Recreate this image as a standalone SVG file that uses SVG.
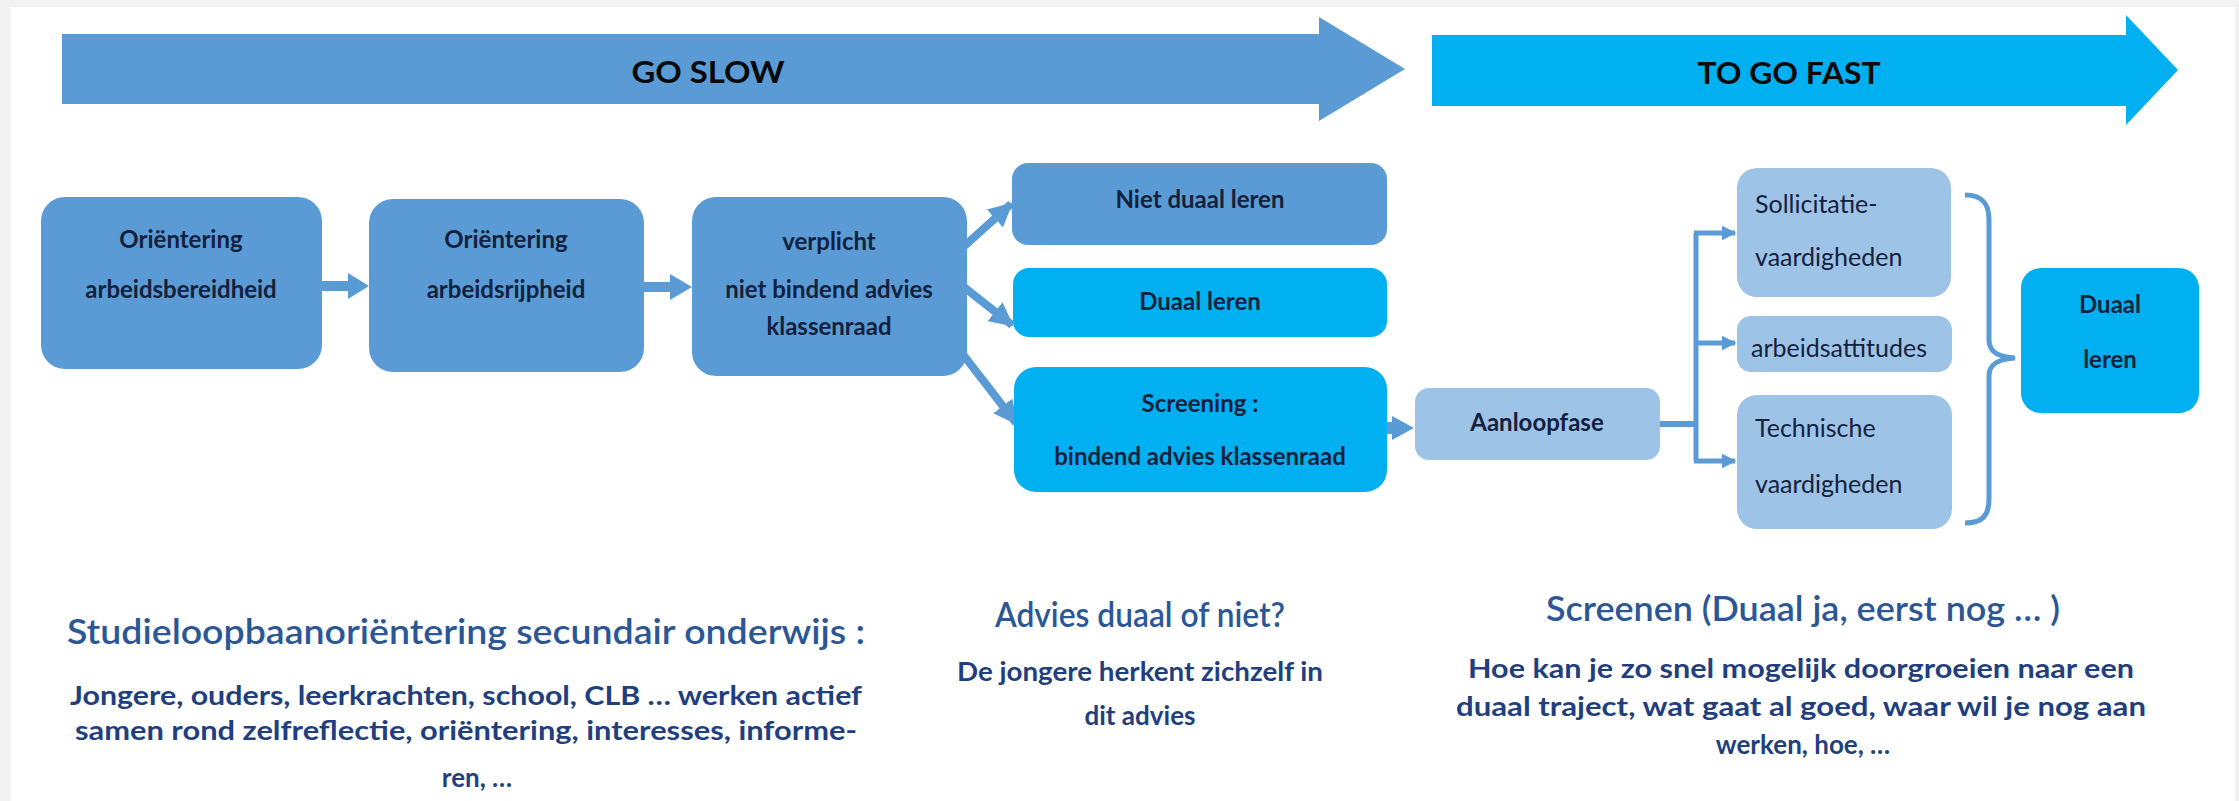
<svg xmlns="http://www.w3.org/2000/svg" width="2239" height="801" viewBox="0 0 2239 801">
<defs>
<style>
.bg{fill:#f2f2f2}
.panel{fill:#ffffff}
.mid{fill:#5b9bd5}
.cyan{fill:#00b0f0}
.light{fill:#9dc3e6}
.bt{font-family:Lato,"Liberation Sans",sans-serif;font-weight:700;font-size:24px;fill:#14213d;text-anchor:middle}
.st{font-family:Lato,"Liberation Sans",sans-serif;font-weight:400;font-size:25px;fill:#14213d}
.at{font-family:Lato,"Liberation Sans",sans-serif;font-weight:700;font-size:30px;fill:#0a0a0a;text-anchor:middle}
.ht{font-family:Lato,"Liberation Sans",sans-serif;font-weight:600;font-size:34px;fill:#2b5797;text-anchor:middle}
.pt{font-family:Lato,"Liberation Sans",sans-serif;font-weight:700;font-size:26px;fill:#1f3f7f;text-anchor:middle}
.ln{stroke:#5b9bd5;fill:none}
</style>
<marker id="ah" viewBox="0 0 10 10" refX="9" refY="5" markerWidth="24" markerHeight="24" markerUnits="userSpaceOnUse" orient="auto">
<path d="M0,0 L10,5 L0,10 Z" fill="#5b9bd5"/>
</marker>
<marker id="ah2" viewBox="0 0 10 10" refX="9" refY="5" markerWidth="15" markerHeight="15" markerUnits="userSpaceOnUse" orient="auto">
<path d="M0,0 L10,5 L0,10 Z" fill="#5b9bd5"/>
</marker>
</defs>
<rect class="bg" x="0" y="0" width="2239" height="801"/>
<rect class="panel" x="11" y="7" width="2224" height="794"/>

<g id="arrow-go-slow">
<polygon class="mid" points="62,34 1319,34 1319,17 1405,69 1319,121 1319,104 62,104"/>
<text class="at" x="708" y="83" textLength="153" lengthAdjust="spacingAndGlyphs">GO SLOW</text>
</g>
<g id="arrow-go-fast">
<polygon class="cyan" points="1432,35 2126,35 2126,15 2178,70 2126,125 2126,106 1432,106"/>
<text class="at" x="1789" y="84" textLength="183" lengthAdjust="spacingAndGlyphs">TO GO FAST</text>
</g>

<g id="connectors">
<polygon class="mid" points="322,281 348,281 348,273 369,286 348,299 348,291 322,291"/>
<polygon class="mid" points="644,282 670,282 670,274 692,287 670,300 670,292 644,292"/>
<line class="ln" x1="960" y1="250" x2="1011" y2="204" stroke-width="8" marker-end="url(#ah)"/>
<line class="ln" x1="960" y1="284" x2="1012" y2="325" stroke-width="8" marker-end="url(#ah)"/>
<line class="ln" x1="958" y1="348" x2="1016" y2="423" stroke-width="8" marker-end="url(#ah)"/>
<polygon class="mid" points="1385,422 1392,422 1392,416 1414,428 1392,440 1392,434 1385,434"/>
<path class="ln" d="M1660,424 H1696" stroke-width="6"/>
<path class="ln" d="M1696,233 V461" stroke-width="5"/>
<line class="ln" x1="1694" y1="233" x2="1735" y2="233" stroke-width="5" marker-end="url(#ah2)"/>
<line class="ln" x1="1694" y1="343" x2="1735" y2="343" stroke-width="5" marker-end="url(#ah2)"/>
<line class="ln" x1="1694" y1="461" x2="1735" y2="461" stroke-width="5" marker-end="url(#ah2)"/>
<path class="ln" d="M1965,195 C1982,195 1989,203 1989,220 L1989,340 C1989,352 1998,357 2015,358 C1998,359 1989,364 1989,376 L1989,499 C1989,516 1982,523 1965,523" stroke-width="5"/>
</g>

<g id="box-orientering-bereid">
<rect class="mid" x="41" y="197" width="281" height="172" rx="24"/>
<text class="bt" x="181" y="248">Oriëntering</text>
<text class="bt" x="181" y="298">arbeidsbereidheid</text>
</g>
<g id="box-orientering-rijp">
<rect class="mid" x="369" y="199" width="275" height="173" rx="24"/>
<text class="bt" x="506" y="248">Oriëntering</text>
<text class="bt" x="506" y="298">arbeidsrijpheid</text>
</g>
<g id="box-verplicht">
<rect class="mid" x="692" y="197" width="275" height="179" rx="24"/>
<text class="bt" x="829" y="250">verplicht</text>
<text class="bt" x="829" y="298">niet bindend advies</text>
<text class="bt" x="829" y="335">klassenraad</text>
</g>
<g id="box-niet-duaal">
<rect class="mid" x="1012" y="163" width="375" height="82" rx="16"/>
<text class="bt" x="1200" y="208">Niet duaal leren</text>
</g>
<g id="box-duaal">
<rect class="cyan" x="1013" y="268" width="374" height="69" rx="16"/>
<text class="bt" x="1200" y="310">Duaal leren</text>
</g>
<g id="box-screening">
<rect class="cyan" x="1014" y="367" width="373" height="125" rx="22"/>
<text class="bt" x="1200" y="412">Screening :</text>
<text class="bt" x="1200" y="465">bindend advies klassenraad</text>
</g>
<g id="box-aanloopfase">
<rect class="light" x="1415" y="388" width="245" height="72" rx="14"/>
<text class="bt" x="1537" y="431">Aanloopfase</text>
</g>
<g id="box-sollicitatie">
<rect class="light" x="1737" y="168" width="214" height="129" rx="20"/>
<text class="st" x="1755" y="213">Sollicitatie-</text>
<text class="st" x="1755" y="266">vaardigheden</text>
</g>
<g id="box-arbeidsattitudes">
<rect class="light" x="1737" y="316" width="215" height="56" rx="14"/>
<text class="st" x="1751" y="357">arbeidsattitudes</text>
</g>
<g id="box-technische">
<rect class="light" x="1737" y="395" width="215" height="134" rx="20"/>
<text class="st" x="1755" y="437">Technische</text>
<text class="st" x="1755" y="493">vaardigheden</text>
</g>
<g id="box-duaal-leren-final">
<rect class="cyan" x="2021" y="268" width="178" height="145" rx="20"/>
<text class="bt" x="2110" y="313">Duaal</text>
<text class="bt" x="2110" y="368">leren</text>
</g>

<g id="text-left">
<text class="ht" x="466" y="644" textLength="798" lengthAdjust="spacingAndGlyphs">Studieloopbaanoriëntering  secundair onderwijs  :</text>
<text class="pt" x="466" y="705" textLength="792" lengthAdjust="spacingAndGlyphs">Jongere, ouders, leerkrachten, school, CLB … werken actief</text>
<text class="pt" x="466" y="740" textLength="782" lengthAdjust="spacingAndGlyphs">samen rond zelfreflectie, oriëntering, interesses, informe-</text>
<text class="pt" x="477" y="787">ren, …</text>
</g>
<g id="text-middle">
<text class="ht" x="1140" y="627" textLength="290" lengthAdjust="spacingAndGlyphs">Advies duaal of niet?</text>
<text class="pt" x="1140" y="681" textLength="366" lengthAdjust="spacingAndGlyphs">De jongere herkent zichzelf in</text>
<text class="pt" x="1140" y="725">dit advies</text>
</g>
<g id="text-right">
<text class="ht" x="1803" y="621" textLength="514" lengthAdjust="spacingAndGlyphs">Screenen (Duaal ja, eerst nog … )</text>
<text class="pt" x="1801" y="678" textLength="666" lengthAdjust="spacingAndGlyphs">Hoe kan je zo snel mogelijk doorgroeien naar een</text>
<text class="pt" x="1801" y="716" textLength="690" lengthAdjust="spacingAndGlyphs">duaal traject, wat gaat al goed, waar wil je nog aan</text>
<text class="pt" x="1803" y="754">werken, hoe, …</text>
</g>
</svg>
